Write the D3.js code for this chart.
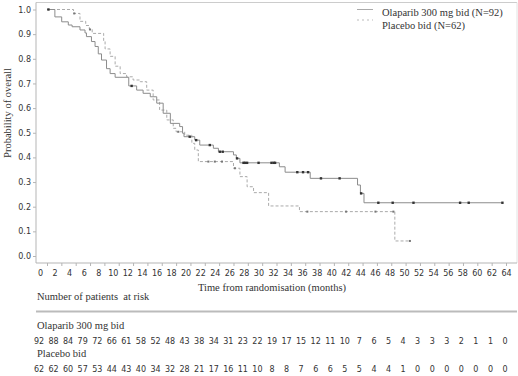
<!DOCTYPE html>
<html><head><meta charset="utf-8">
<script src="https://cdn.jsdelivr.net/npm/d3@7"></script>
<style>body{margin:0;background:#fff}svg{display:block}</style>
</head><body><svg id="c" width="518" height="376"></svg>
<script>
const timeTicks = d3.range(0, 65, 2);
const probTicks = [0, 0.1, 0.2, 0.3, 0.4, 0.5, 0.6, 0.7, 0.8, 0.9, 1.0];
const seriesNames = ["Olaparib 300 mg bid (N=92)", "Placebo bid (N=62)"];
const riskLabels = ["Olaparib 300 mg bid", "Placebo bid"];

// Kaplan-Meier steps [time, survival after step]
const olaSteps = [[0,1],[1.1,0.97],[2.05,0.95],[2.97,0.937],[3.5,0.93],[4.6,0.917],[5.3,0.905],[5.5,0.89],
  [6.2,0.87],[6.7,0.85],[7.15,0.82],[7.6,0.795],[8.3,0.76],[8.8,0.74],[9.5,0.725],[11.4,0.69],[12.5,0.673],
  [13.4,0.66],[14.4,0.646],[15.3,0.62],[16.2,0.579],[17.2,0.538],[18.5,0.525],[18.9,0.498],[19.1,0.484],
  [20.6,0.47],[21.3,0.45],[23.2,0.437],[23.9,0.423],[26.0,0.41],[26.4,0.396],[26.9,0.378],[32.4,0.362],
  [33.2,0.34],[36.7,0.315],[43.3,0.288],[43.7,0.254],[44.2,0.216]];
const olaEnd = 63.5;
const olaCensor = [0.2, 11.8, 19.9, 20.8, 22.7, 24.1, 24.5, 26.5, 27.4, 27.6, 27.9, 29.5, 31.3, 31.6, 31.8,
  34.9, 35.7, 36.4, 38.2, 40.8, 43.8, 46.2, 48.2, 51.1, 57.6, 58.8, 63.5];

const plaSteps = [[0,1],[3.7,0.984],[4.6,0.952],[5.4,0.935],[5.9,0.919],[6.3,0.903],[7.9,0.87],[8.1,0.84],
  [8.8,0.81],[9.5,0.77],[10.2,0.74],[11.1,0.727],[12.0,0.714],[13.0,0.707],[13.9,0.673],[14.8,0.633],
  [15.7,0.592],[16.7,0.552],[17.6,0.518],[18.0,0.504],[19.2,0.49],[20.2,0.457],[20.6,0.43],[21.1,0.383],
  [26.0,0.356],[26.9,0.322],[27.9,0.281],[28.8,0.257],[30.9,0.203],[35.2,0.18],[48.5,0.061]];
const plaEnd = 50.6;
const plaCensor = [3.8, 6.0, 18.3, 22.5, 23.4, 24.4, 26.2, 36.3, 41.7, 45.8, 48.3, 50.6];

const olaRisk = [92,88,84,79,72,66,61,58,52,48,43,38,34,31,23,22,19,17,15,12,11,10,7,6,5,4,3,3,3,2,1,1,0];
const plaRisk = [62,62,60,57,53,44,43,40,34,32,28,21,17,16,11,10,8,8,7,6,6,5,5,4,4,1,0,0,0,0,0,0,0];

const svg = d3.select("#c");
const x = d3.scaleLinear().domain([0, 64]).range([47, 506]);
const y = d3.scaleLinear().domain([0, 1]).range([256, 9.5]);
const labelShift = t => -7 * (1 - t / 64);
const sans = "DejaVu Sans, Verdana, sans-serif";
const serif = "Liberation Serif, Times New Roman, serif";
const axisCol = "#b5b5b5", textCol = "#333";

// frame
svg.append("line").attr("x1",36).attr("x2",517).attr("y1",2.5).attr("y2",2.5).attr("stroke","#ccc");
svg.append("line").attr("x1",517).attr("x2",517).attr("y1",2.5).attr("y2",263).attr("stroke","#e2e2e2");
svg.append("line").attr("x1",36).attr("x2",36).attr("y1",2.5).attr("y2",263).attr("stroke",axisCol);
svg.append("line").attr("x1",36).attr("x2",517).attr("y1",263).attr("y2",263).attr("stroke",axisCol);

// y axis
const ya = svg.append("g").attr("transform","translate(36,0)")
  .call(d3.axisLeft(y).tickValues(probTicks).tickSize(3).tickPadding(2).tickFormat(d3.format(".1f")));
ya.select(".domain").remove();
ya.selectAll("line").attr("stroke", axisCol);
ya.selectAll("text").attr("font-family", sans).attr("font-size", 8).attr("fill", textCol);

// x axis
const xa = svg.append("g").attr("transform","translate(0,263)")
  .call(d3.axisBottom(x).tickValues(timeTicks).tickSize(3).tickPadding(4).tickFormat(d3.format("d")));
xa.select(".domain").remove();
xa.selectAll("line").attr("stroke", axisCol);
xa.selectAll("text").attr("font-family", sans).attr("font-size", 8).attr("fill", textCol)
  .attr("dx", d => labelShift(d));

// titles
svg.append("text").attr("transform","translate(11,113) rotate(-90)").attr("text-anchor","middle")
  .attr("font-family", serif).attr("font-size", 10.5).attr("fill", textCol).text("Probability of overall");
svg.append("text").attr("x", 272).attr("y", 291).attr("text-anchor","middle")
  .attr("font-family", serif).attr("font-size", 10.5).attr("fill", textCol).text("Time from randomisation (months)");

// curves
const line = d3.line().x(d => x(d[0])).y(d => y(d[1])).curve(d3.curveStepAfter);
function survAt(steps, t){ let v = 1; for (const s of steps) if (s[0] <= t) v = s[1]; return v; }
const plaPts = plaSteps.concat([[plaEnd, plaSteps[plaSteps.length-1][1]]]);
const olaPts = olaSteps.concat([[olaEnd, olaSteps[olaSteps.length-1][1]]]);
svg.append("path").attr("d", line(plaPts)).attr("fill","none").attr("stroke","#aaa")
  .attr("stroke-width",1).attr("stroke-dasharray","3,2");
svg.append("path").attr("d", line(olaPts)).attr("fill","none").attr("stroke","#8c8c8c").attr("stroke-width",1);

svg.append("g").selectAll("rect").data(plaCensor).join("rect")
  .attr("x", d => x(d) - 1).attr("y", d => y(survAt(plaSteps, d)) - 1).attr("width", 2).attr("height", 2)
  .attr("fill", "#777");
svg.append("g").selectAll("rect").data(olaCensor).join("rect")
  .attr("x", d => x(d) - 1.2).attr("y", d => y(survAt(olaSteps, d)) - 1.2).attr("width", 2.4).attr("height", 2.4)
  .attr("fill", "#333");

// legend
svg.append("line").attr("x1",357).attr("x2",373).attr("y1",9.5).attr("y2",9.5).attr("stroke","#aaa");
svg.append("line").attr("x1",357).attr("x2",373).attr("y1",20).attr("y2",20).attr("stroke","#bbb").attr("stroke-dasharray","2,3");
svg.selectAll(".leg").data(seriesNames).join("text").attr("class","leg")
  .attr("x", 382).attr("y", (d,i) => 15.5 + i*13).attr("font-family", serif).attr("font-size", 10.5)
  .attr("fill", textCol).text(d => d);

// risk table
svg.append("text").attr("x", 37).attr("y", 300).attr("font-family", serif).attr("font-size", 10.5)
  .attr("fill", textCol).attr("xml:space","preserve").text("Number of patients  at risk");
svg.append("line").attr("x1",36).attr("x2",517).attr("y1",311.5).attr("y2",311.5).attr("stroke","#bbb").attr("stroke-width",2);
const rowY = [[329, 344], [357, 372]];
[olaRisk, plaRisk].forEach((arr, i) => {
  svg.append("text").attr("x", 37).attr("y", rowY[i][0]).attr("font-family", serif).attr("font-size", 10.5)
    .attr("fill", textCol).text(riskLabels[i]);
  svg.append("g").selectAll("text").data(arr).join("text")
    .attr("x", (d, j) => x(timeTicks[j]) + labelShift(timeTicks[j]) - 1).attr("y", rowY[i][1])
    .attr("text-anchor","middle").attr("font-family", sans).attr("font-size", 8).attr("fill", textCol)
    .text(d => d);
});
</script></body></html>
